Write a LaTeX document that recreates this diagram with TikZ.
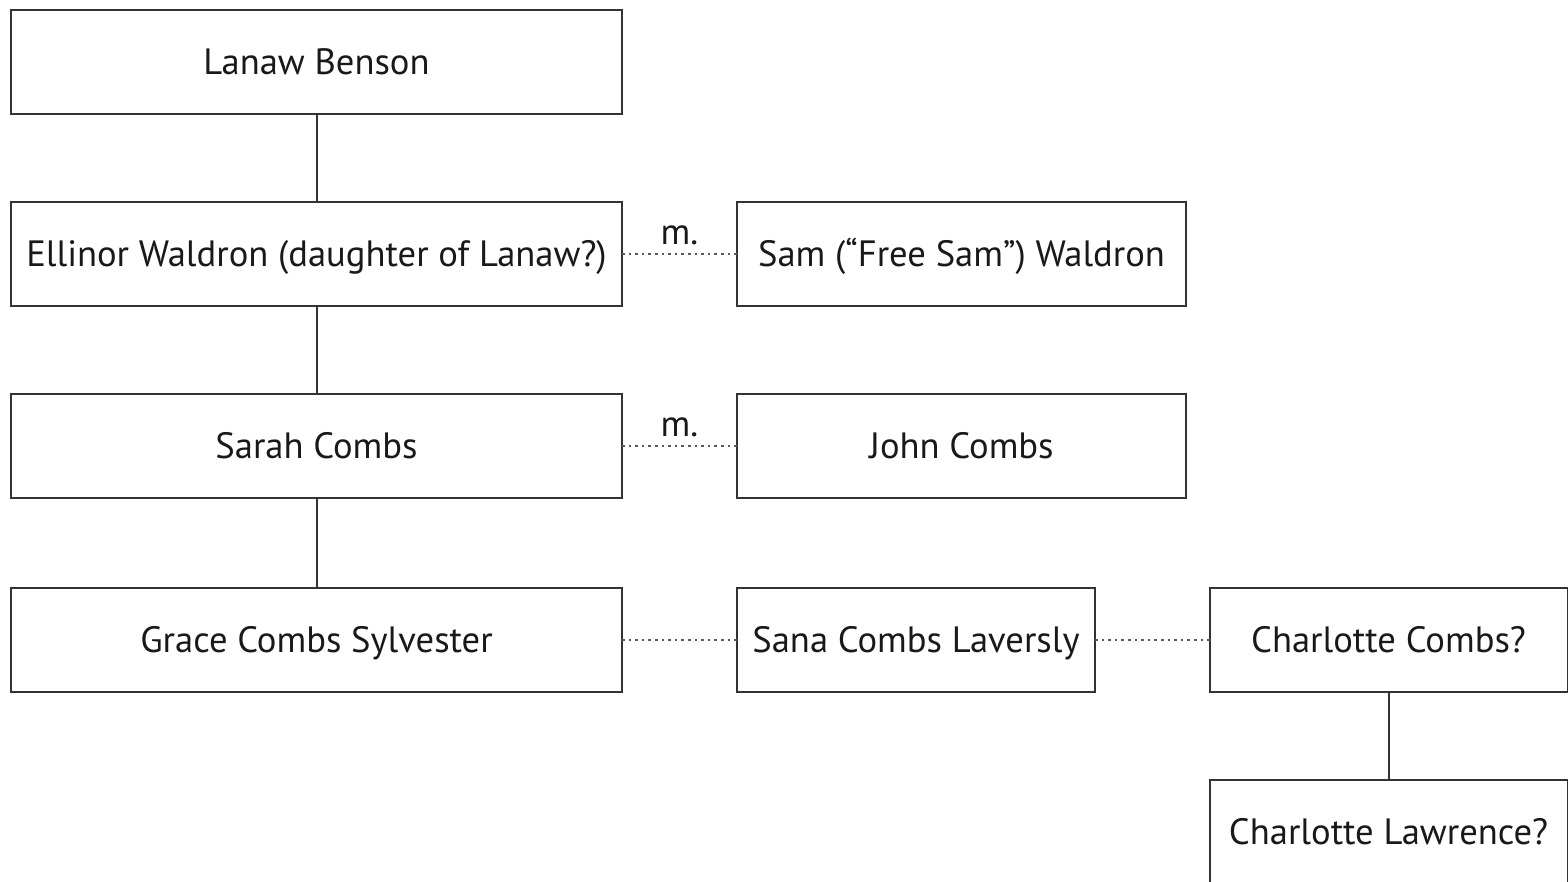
\documentclass[tikz,border=0pt]{standalone}
\usepackage{fontspec}
\setmainfont{PT Sans}
\begin{document}
\begin{tikzpicture}[x=0.5pt,y=-0.5pt,
  person/.style={draw=black!80, line width=1pt, rectangle, inner sep=0pt, outer sep=0pt,
    minimum height=52pt, font=\fontsize{18.3}{21}\selectfont, text height=12.8pt, text depth=0pt, text=black!90},
  wide/.style={person, minimum width=305.5pt},
  mid/.style={person, minimum width=224.5pt},
  narrow/.style={person, minimum width=179pt},
  tie/.style={draw=black!80, line width=1pt},
  marr/.style={draw=black!65, line width=0.9pt, dash pattern=on 1.3pt off 2pt},
  mlabel/.style={font=\fontsize{18.3}{21}\selectfont, text=black!90, inner sep=0pt}]
\useasboundingbox (0,0) rectangle (1568,882);
\fill[white] (0,0) rectangle (1568,882);
\node[wide] (lanaw) at (316.5,62) {Lanaw Benson};
\node[wide] (ellinor) at (316.5,254) {Ellinor Waldron (daughter of Lanaw?)};
\node[mid] (sam) at (961.5,254) {Sam (“Free Sam”) Waldron};
\node[wide] (sarah) at (316.5,446) {Sarah Combs};
\node[mid] (john) at (961.5,446) {John Combs};
\node[wide] (grace) at (316.5,640) {Grace Combs Sylvester};
\node[narrow] (sana) at (916,640) {Sana Combs Laversly};
\node[narrow] (ccombs) at (1388.5,640) {Charlotte Combs?};
\node[narrow] (claw) at (1388.5,832) {Charlotte Lawrence?};
\draw[tie] (lanaw) -- (ellinor);
\draw[tie] (ellinor) -- (sarah);
\draw[tie] (sarah) -- (grace);
\draw[tie] (ccombs) -- (claw);
\draw[marr] (ellinor) -- node[mlabel, above=4pt] (m1) {m.} (sam);
\draw[marr] (sarah) -- node[mlabel, above=4pt] (m2) {m.} (john);
\draw[marr] (grace) -- (sana);
\draw[marr] (sana) -- (ccombs);
\end{tikzpicture}
\end{document}
